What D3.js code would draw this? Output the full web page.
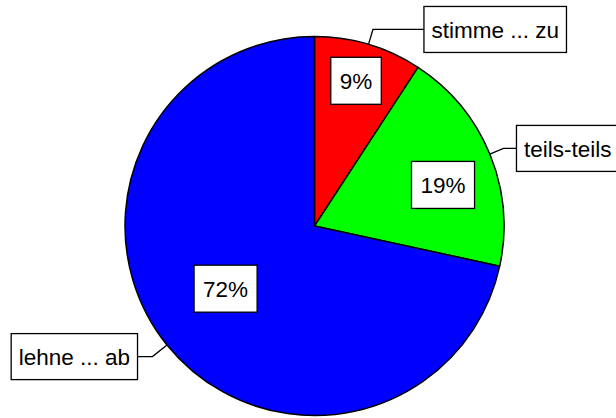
<!DOCTYPE html>
<html>
<head>
<meta charset="utf-8">
<script src="https://cdn.jsdelivr.net/npm/d3@7/dist/d3.min.js"></script>
<style>
html,body{margin:0;padding:0;background:#fff;}
svg{display:block;}
text{font-family:"Liberation Sans",Arial,sans-serif;}
</style>
</head>
<body>
<svg id="chart" width="616" height="418"></svg>
<script>
// Data
const categories = ["stimme ... zu", "teils-teils", "lehne ... ab"];
const values = [9.2, 19.2, 71.6];
const percentLabels = ["9%", "19%", "72%"];
const colors = ["#ff0000", "#00ff00", "#0000ff"];

// Layout (not data)
const W = 616, H = 418;
const cx = 314.5, cy = 226, R = 189.5;
const fontSize = 22.5;
const pctLayout = [ {r: 0.797, da: -0.6}, {r: 0.712, da: 4.6}, {r: 0.574, da: 3.7} ]; // radius frac, angle tweak (deg)
const leaderElbow = [1.082, 1.078, 1.098];
const nameGap = [51, 13, 15];
const boxH = 46;

const svg = d3.select("#chart");
const g = svg.append("g").attr("transform", `translate(${cx},${cy})`);

const pie = d3.pie().sort(null).value(d => d).startAngle(0).endAngle(2 * Math.PI);
const arcs = pie(values);
const arc = d3.arc().innerRadius(0).outerRadius(R);

g.selectAll("path.slice").data(arcs).enter().append("path")
  .attr("class", "slice")
  .attr("d", arc)
  .attr("fill", (d, i) => colors[i])
  .attr("stroke", "#000")
  .attr("stroke-width", 1.5)
  .attr("stroke-linejoin", "round");

function measure(txt) {
  const t = svg.append("text").attr("font-size", fontSize).text(txt);
  const w = t.node().getComputedTextLength();
  t.remove();
  return w;
}

// Percentage boxes
arcs.forEach((d, i) => {
  const mid = (d.startAngle + d.endAngle) / 2 + pctLayout[i].da * Math.PI / 180;
  const rr = R * pctLayout[i].r;
  const x = Math.sin(mid) * rr, y = -Math.cos(mid) * rr;
  const tw = measure(percentLabels[i]);
  const bw = tw + 18, bh = 47;
  const lg = g.append("g");
  lg.append("rect").attr("x", x - bw / 2).attr("y", y - bh / 2).attr("width", bw).attr("height", bh)
    .attr("fill", "#fff").attr("stroke", "#000").attr("stroke-width", 1.3);
  lg.append("text").attr("x", x).attr("y", y + fontSize * 0.36)
    .attr("text-anchor", "middle").attr("font-size", fontSize).attr("fill", "#000")
    .text(percentLabels[i]);
});

// Leader lines and category boxes
arcs.forEach((d, i) => {
  const mid = (d.startAngle + d.endAngle) / 2;
  const p0 = [Math.sin(mid) * R, -Math.cos(mid) * R];
  const p1 = [Math.sin(mid) * R * leaderElbow[i], -Math.cos(mid) * R * leaderElbow[i]];
  const right = Math.sin(mid) >= 0;
  const p2 = [p1[0] + (right ? nameGap[i] : -nameGap[i]), p1[1]];
  g.append("path").attr("d", d3.line()([p0, p1, p2]))
    .attr("fill", "none").attr("stroke", "#000").attr("stroke-width", 1.3);
  const tw = measure(categories[i]);
  const bw = tw + 15;
  const bx = right ? p2[0] : p2[0] - bw;
  g.append("rect").attr("x", bx).attr("y", p1[1] - boxH / 2).attr("width", bw).attr("height", boxH)
    .attr("fill", "#fff").attr("stroke", "#000").attr("stroke-width", 1.3);
  g.append("text").attr("x", bx + bw / 2).attr("y", p1[1] + fontSize * 0.36)
    .attr("text-anchor", "middle").attr("font-size", fontSize).attr("fill", "#000")
    .text(categories[i]);
});
</script>
</body>
</html>
